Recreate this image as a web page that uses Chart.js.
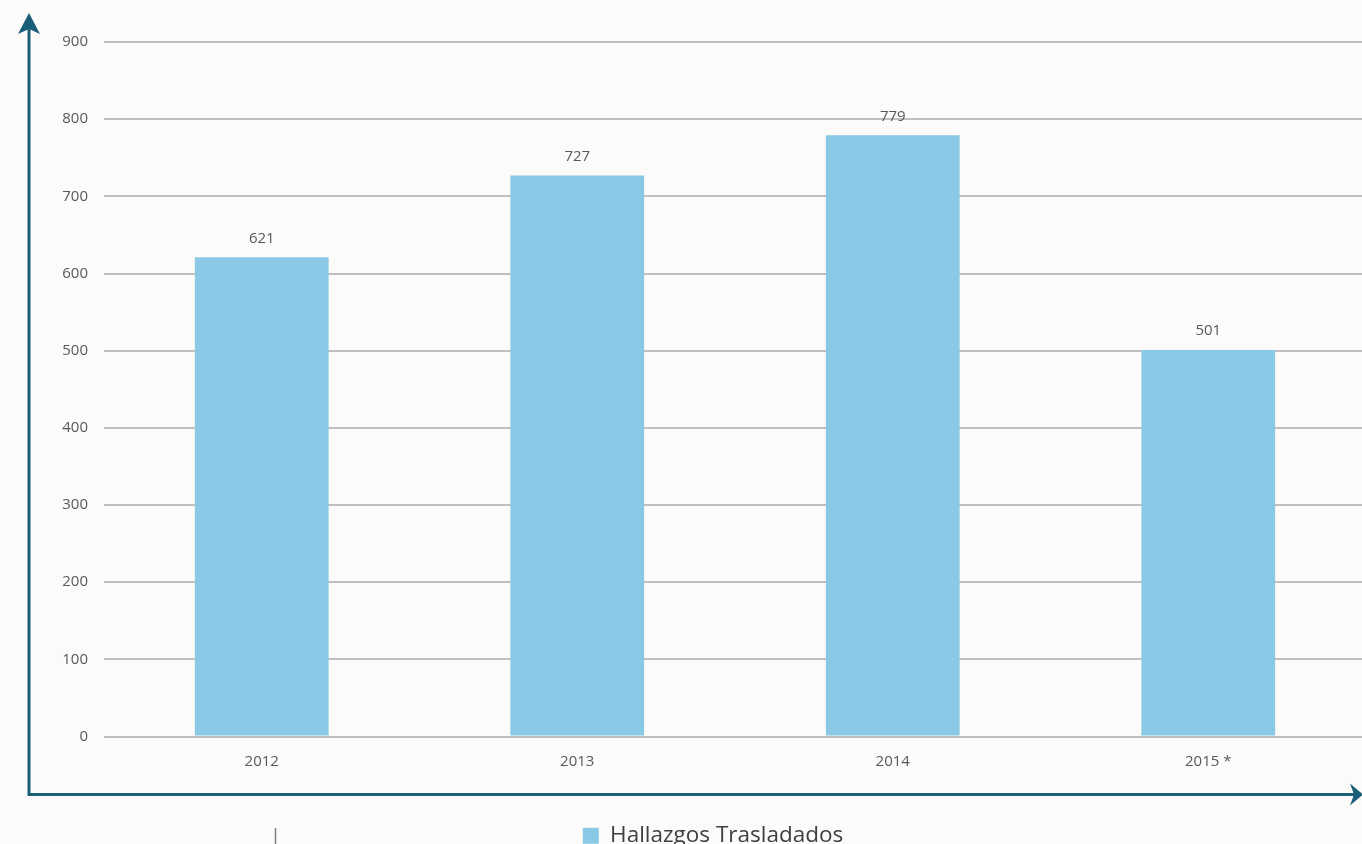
<!DOCTYPE html>
<html>
<head>
<meta charset="utf-8">
<script src="https://cdn.jsdelivr.net/npm/chart.js@4.4.1/dist/chart.umd.min.js"></script>
<style>
  html, body { margin: 0; padding: 0; background: #fcfbfa; overflow: hidden; }
  #wrap { width: 1368px; height: 857px; }
</style>
</head>
<body>
<div id="wrap"><canvas id="myChart"></canvas></div>
<script>
var years = ["2012", "2013", "2014", "2015 *"];
var hallazgos = [621, 727, 779, 501];
var yTicks = [0, 100, 200, 300, 400, 500, 600, 700, 800, 900];

var axisColor = "#1b5e78";
var textColor = "#595959";

// flechas de los ejes + etiquetas sobre las barras
const extras = {
  id: "extras",
  afterLayout(chart) {
    // la leyenda del original no está centrada del todo
    chart.legend.left += 30;
    chart.legend.right += 30;
  },
  afterDatasetsDraw(chart) {
    const c = chart.ctx;
    const area = chart.chartArea;
    const ox = area.left - 75;
    const oy = area.bottom + 58;
    c.save();
    c.strokeStyle = axisColor;
    c.fillStyle = axisColor;
    c.lineWidth = 3;
    c.beginPath();
    c.moveTo(ox, oy);
    c.lineTo(ox, 22);
    c.moveTo(ox - 1.5, oy);
    c.lineTo(1354, oy);
    c.stroke();
    // punta vertical
    c.beginPath();
    c.moveTo(ox, 13);
    c.lineTo(ox - 11, 34);
    c.lineTo(ox, 29);
    c.lineTo(ox + 11, 34);
    c.closePath();
    c.fill();
    // punta horizontal
    c.beginPath();
    c.moveTo(1363, oy);
    c.lineTo(1350, oy - 11);
    c.lineTo(1354, oy);
    c.lineTo(1350, oy + 11);
    c.closePath();
    c.fill();
    // marca suelta abajo
    c.strokeStyle = "#7f7f7f";
    c.lineWidth = 1.5;
    c.beginPath();
    c.moveTo(275.5, 828);
    c.lineTo(275.5, 844);
    c.stroke();

    c.fillStyle = textColor;
    c.font = "15px 'Open Sans'";
    c.textAlign = "center";
    c.textBaseline = "middle";
    chart.getDatasetMeta(0).data.forEach(function (bar, i) {
      c.fillText(String(hallazgos[i]), bar.x, bar.y - 19);
    });
    c.restore();
  }
};

new Chart(document.getElementById("myChart"), {
  type: "bar",
  data: {
    labels: years,
    datasets: [
      {
        label: "Hallazgos Trasladados",
        data: hallazgos,
        backgroundColor: "#89c9e6",
        borderWidth: 0,
        categoryPercentage: 1,
        barPercentage: 0.424,
      },
    ],
  },
  options: {
    responsive: true,
    maintainAspectRatio: false,
    animation: false,
    layout: { padding: { top: 42, left: 0, right: 2, bottom: 0 } },
    plugins: {
      tooltip: { enabled: false },
      legend: {
        position: "bottom",
        labels: {
          color: "#404040",
          font: { family: "'Open Sans'", size: 22.5 },
          boxWidth: 16,
          boxHeight: 16,
          padding: 8,
        },
      },
    },
    scales: {
      x: {
        grid: { display: false },
        border: { display: false },
        ticks: { color: textColor, font: { family: "'Open Sans'", size: 15 }, padding: 8 },
        afterFit: function (s) { s.height = 80; },
      },
      y: {
        min: 0,
        max: 900,
        afterBuildTicks: function (s) { s.ticks = yTicks.map(function (v) { return { value: v }; }); },
        grid: { color: "#bfbfbf", lineWidth: 2, drawTicks: false },
        border: { display: false },
        ticks: { color: textColor, font: { family: "'Open Sans'", size: 15 }, padding: 16 },
        afterFit: function (s) { s.width = 104; },
      },
    },
  },
  plugins: [extras],
});
</script>
</body>
</html>
